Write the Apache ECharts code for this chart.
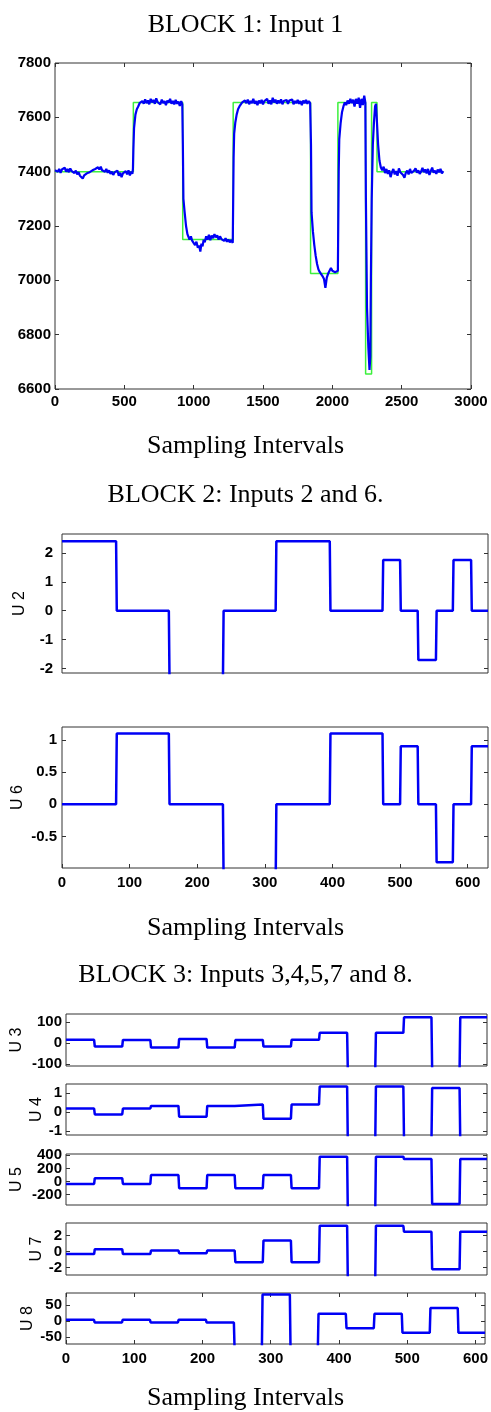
<!DOCTYPE html>
<html><head><meta charset="utf-8">
<script src="https://cdn.jsdelivr.net/npm/echarts@6/dist/echarts.min.js"></script>
<style>html,body{margin:0;padding:0;background:#fff}#c{width:491px;height:1412px}</style>
</head><body><div id="c"></div><script>
// ---------------- DATA ----------------
// Block 1: setpoint (green) and measured output (blue), [sample, value]
const setpoint1 = [[0,7400],[565,7400],[565,7655],[921,7655],[921,7150],[1285,7150],[1285,7655],[1843,7655],[1843,7025],[2040,7025],[2040,7655],[2240,7655],[2240,6655],[2283,6655],[2283,7655],[2322,7655],[2322,7400],[2800,7400]];
const output1 = [
[0,7405],[10,7412],[20,7400],[30,7410],[40,7396],[50,7408],[60,7402],[70,7415],[80,7400],[90,7410],[100,7398],[110,7412],[120,7402],[130,7408],[140,7395],[150,7404],[160,7390],[170,7398],[180,7385],[190,7392],[200,7375],[210,7386],[220,7380],[230,7394],[240,7388],[250,7398],[260,7392],[270,7405],[280,7398],[290,7410],[300,7404],[310,7416],[320,7408],[330,7418],[340,7405],[350,7412],[360,7400],[370,7410],[380,7396],[390,7405],[400,7392],[410,7400],[420,7388],[430,7398],[440,7392],[450,7404],[460,7385],[470,7396],[480,7380],[490,7394],[500,7388],[510,7402],[520,7390],[530,7405],[540,7386],[550,7400],[558,7392],[562,7410],
[565,7480],[570,7560],[580,7610],[590,7630],[600,7640],[610,7652],[620,7645],[630,7660],[640,7650],[650,7666],[660,7652],[670,7662],[680,7648],[690,7668],[700,7655],[710,7664],[720,7650],[730,7670],[740,7656],[750,7662],[760,7648],[770,7665],[780,7652],[790,7660],[800,7645],[810,7662],[820,7654],[830,7668],[840,7650],[850,7660],[860,7648],[870,7664],[880,7650],[890,7658],[900,7642],[910,7660],[918,7648],
[922,7500],[926,7300],[935,7250],[945,7200],[955,7170],[960,7165],[970,7150],[980,7162],[990,7145],[1000,7150],[1010,7130],[1020,7142],[1030,7120],[1040,7128],[1048,7106],[1056,7135],[1064,7125],[1072,7150],[1080,7140],[1090,7162],[1100,7150],[1110,7168],[1120,7148],[1130,7165],[1140,7155],[1150,7170],[1160,7158],[1170,7166],[1180,7150],[1190,7162],[1200,7152],[1210,7158],[1220,7145],[1230,7155],[1240,7142],[1250,7150],[1260,7140],[1270,7148],[1282,7138],
[1288,7450],[1292,7540],[1300,7580],[1310,7610],[1320,7630],[1330,7640],[1340,7645],[1350,7655],[1360,7648],[1370,7662],[1380,7652],[1390,7665],[1400,7648],[1410,7660],[1420,7652],[1430,7668],[1440,7650],[1450,7660],[1460,7645],[1470,7662],[1480,7652],[1490,7664],[1500,7648],[1510,7660],[1520,7655],[1530,7668],[1540,7650],[1550,7662],[1560,7648],[1570,7672],[1580,7655],[1590,7665],[1600,7650],[1610,7662],[1620,7652],[1630,7666],[1640,7648],[1650,7660],[1660,7654],[1670,7664],[1680,7650],[1690,7662],[1700,7655],[1710,7666],[1720,7648],[1730,7660],[1740,7652],[1750,7664],[1760,7650],[1770,7660],[1780,7645],[1790,7662],[1800,7652],[1810,7664],[1820,7650],[1830,7660],[1840,7652],
[1846,7500],[1850,7250],[1860,7180],[1870,7130],[1880,7090],[1890,7060],[1900,7040],[1910,7030],[1920,7035],[1930,7015],[1940,7005],[1950,6972],[1960,7010],[1970,7025],[1980,7030],[1990,7045],[2000,7035],[2010,7040],[2020,7030],[2040,7035],
[2046,7400],[2050,7520],[2060,7580],[2070,7620],[2080,7640],[2090,7655],[2100,7645],[2110,7662],[2120,7650],[2130,7668],[2140,7652],[2150,7665],[2160,7640],[2170,7668],[2180,7650],[2190,7672],[2200,7635],[2210,7668],[2220,7645],[2230,7680],[2238,7655],
[2242,7300],[2250,6900],[2260,6750],[2268,6670],[2274,6720],[2278,7000],[2284,7300],[2292,7500],[2300,7580],[2308,7640],[2315,7650],[2322,7580],[2330,7500],[2340,7440],[2350,7415],
[2360,7405],[2370,7418],[2380,7395],[2390,7410],[2400,7392],[2410,7405],[2420,7380],[2430,7398],[2440,7410],[2450,7390],[2460,7402],[2470,7385],[2480,7412],[2490,7398],[2500,7405],[2510,7388],[2520,7378],[2530,7396],[2540,7404],[2550,7390],[2560,7410],[2570,7395],[2580,7388],[2590,7404],[2600,7412],[2610,7396],[2620,7405],[2630,7392],[2640,7400],[2650,7414],[2660,7398],[2670,7408],[2680,7394],[2690,7410],[2700,7388],[2710,7402],[2720,7415],[2730,7396],[2740,7404],[2750,7392],[2760,7408],[2770,7398],[2780,7410],[2790,7394],[2800,7402]];
const b1XTicks = [0,500,1000,1500,2000,2500,3000];
const b1YTicks = [6600,6800,7000,7200,7400,7600,7800];

// Block 2: switching instants and levels
const b2Switch = [0,80,158,238,316,396,474,500,526,553,578,605];
const u2Levels = [2.4,0,-2.4,0,2.4,0,1.75,0,-1.7,0,1.75,0];
const u6Levels = [0,1.1,0,-1.2,0,1.1,0,0.9,0,-0.9,0,0.9];
const b2End = 630;
const b2XTicks = [0,100,200,300,400,500,600];
const u2YTicks = [-2,-1,0,1,2];
const u6YTicks = [-0.5,0,0.5,1];

// Block 3
const b3Switch = [0,41,82,123,164,205,246,287,328,369,410,451,492,533,574];
const u3Levels = [15,-17,14,-22,19,-22,14,-17,15,48,-130,48,122,-130,122];
const u4Levels = [0.17,-0.14,0.17,0.31,-0.26,0.31,0.38,-0.36,0.38,1.33,-1.6,1.33,-1.6,1.25,-1.6];
const u5Levels = [-38,49,-38,99,-104,99,-104,99,-104,379,-450,379,343,-345,343];
const u7Levels = [-0.3,0.3,-0.3,0.13,-0.2,0.13,-1.34,1.4,-1.34,3.25,-3.6,3.25,2.5,-2.22,2.5];
const u8Levels = [3,-5,3,-5,3,-5,-90,82,-90,22,-23,22,-37,40,-37];
const b3End = 614;
const b3XTicks = [0,100,200,300,400,500,600];
const u3YTicks = [-100,0,100];
const u4YTicks = [-1,0,1];
const u5YTicks = [-200,0,200,400];
const u7YTicks = [-2,0,2];
const u8YTicks = [-50,0,50];

// ---------------- BUILD ----------------
const FONT = '"Liberation Sans", Arial, sans-serif';
const SERIF = '"Liberation Serif", "Times New Roman", serif';
const BLUE = '#0000f5';
const fmt = v => String(v);

function steps(sw, lv, end){
  const pts = [];
  for (let i=0;i<lv.length;i++){
    const s = sw[i], e = (i+1<sw.length) ? sw[i+1] : end;
    pts.push([i===0 ? s : s+1, lv[i]]);
    pts.push([e, lv[i]]);
  }
  return pts;
}

const grids=[], xAxes=[], yAxes=[], series=[], extraY=[];
function lab(show, values, margin){
  return {show:show, customValues:values, margin:margin, fontSize:15, lineHeight:11, fontWeight:'bold', color:'#000',
    fontFamily:FONT, formatter:fmt, hideOverlap:false, showMinLabel:true, showMaxLabel:true};
}
function tick(show, values){
  return {show:show, inside:true, length:4, customValues:values, lineStyle:{color:'#333'}};
}
function panel(p){
  const gi = grids.length;
  grids.push({left:p.left, top:p.top, width:p.width, height:p.height, show:true, borderColor:'#333', borderWidth:1});
  const bx = {type:'value', gridIndex:gi, min:p.xMin, max:p.xMax, splitLine:{show:false}, axisLine:{show:false, onZero:false}};
  xAxes.push(Object.assign({}, bx, {position:'bottom', axisTick:tick(!!p.xTicksBottom, p.xTicks), axisLabel:lab(!!p.xLabels, p.xTicks, p.xMargin||6)}));
  xAxes.push(Object.assign({}, bx, {position:'top', axisTick:tick(!!p.xTicksTop, p.xTicks), axisLabel:{show:false}}));
  const by = {type:'value', gridIndex:gi, min:p.yMin, max:p.yMax, splitLine:{show:false}, axisLine:{show:false, onZero:false}};
  // label sets: split into alternating groups so that crowded labels are all drawn
  const labA = p.yTicks.filter((v,i)=> !p.splitLabels || i%2===1);
  const labB = p.yTicks.filter((v,i)=> i%2===0);
  yAxes.push(Object.assign({}, by, {position:'left',
    name:p.name||'', nameLocation:'middle', nameRotate:90, nameGap:p.nameGap||30, nameMoveOverlap:false,
    nameTextStyle:{fontSize:16, color:'#000', fontFamily:FONT},
    axisTick:tick(true, p.yTicks), axisLabel:lab(true, labA, p.yMargin||5)}));
  yAxes.push(Object.assign({}, by, {position:'right', axisTick:tick(true, p.yTicks), axisLabel:{show:false}}));
  if (p.splitLabels){
    extraY.push(Object.assign({}, by, {position:'left', axisTick:{show:false}, axisLabel:lab(true, labB, p.yMargin||5)}));
  }
  (p.lines||[]).forEach(l=>{
    series.push({type:'line', xAxisIndex:2*gi, yAxisIndex:2*gi, data:l.data, showSymbol:false, symbol:'none',
      clip:true, animation:false, lineStyle:{color:l.color, width:l.width}, z:l.z||2});
  });
}

panel({left:55, top:63, width:416, height:326, xMin:0, xMax:3000, yMin:6600, yMax:7800,
  xTicks:b1XTicks, yTicks:b1YTicks, xLabels:true, xTicksBottom:true, xTicksTop:true, xMargin:7, yMargin:4,
  lines:[{data:setpoint1, color:'#3cf03c', width:1.5, z:2},{data:output1, color:BLUE, width:2.2, z:3}]});

panel({left:62, top:534, width:426, height:139, xMin:0, xMax:b2End, yMin:-2.15, yMax:2.65,
  xTicks:b2XTicks, yTicks:u2YTicks, name:'U 2', nameGap:34, yMargin:9,
  lines:[{data:steps(b2Switch,u2Levels,b2End), color:BLUE, width:2.5}]});
panel({left:62, top:727, width:426, height:141, xMin:0, xMax:b2End, yMin:-0.99, yMax:1.2,
  xTicks:b2XTicks, yTicks:u6YTicks, name:'U 6', nameGap:36, yMargin:5, xLabels:true, xTicksBottom:true, xMargin:9,
  lines:[{data:steps(b2Switch,u6Levels,b2End), color:BLUE, width:2.5}]});

const b3 = [
  {top:1014, height:52, yMin:-110, yMax:138, yTicks:u3YTicks, name:'U 3', gap:41, lv:u3Levels},
  {top:1084, height:51, yMin:-1.22, yMax:1.46, yTicks:u4YTicks, name:'U 4', gap:21, lv:u4Levels},
  {top:1154, height:51, yMin:-360, yMax:420, yTicks:u5YTicks, name:'U 5', gap:41, lv:u5Levels, split:true},
  {top:1223, height:52, yMin:-2.95, yMax:3.6, yTicks:u7YTicks, name:'U 7', gap:21, lv:u7Levels},
  {top:1293, height:51, yMin:-72.5, yMax:87, yTicks:u8YTicks, name:'U 8', gap:30, lv:u8Levels, last:true}
];
b3.forEach(b=>{
  panel({left:66, top:b.top, width:421, height:b.height, xMin:0, xMax:b3End, yMin:b.yMin, yMax:b.yMax,
    xTicks:b3XTicks, yTicks:b.yTicks, name:b.name, nameGap:b.gap, yMargin:4, splitLabels:!!b.split,
    xLabels:!!b.last, xTicksBottom:!!b.last, xTicksTop:!!b.last, xMargin:9,
    lines:[{data:steps(b3Switch,b.lv,b3End), color:BLUE, width:2.5}]});
});
extraY.forEach(a=>yAxes.push(a));

function txt(t, y){
  return {type:'text', x:245.5, y:y, silent:true,
    style:{text:t, font:'26px '+SERIF, fill:'#000', textAlign:'center', textVerticalAlign:'middle'}};
}
const chart = echarts.init(document.getElementById('c'), null, {renderer:'canvas'});
chart.setOption({
  animation:false,
  backgroundColor:'#fff',
  grid:grids, xAxis:xAxes, yAxis:yAxes, series:series,
  graphic:[
    txt('BLOCK 1: Input 1', 25),
    txt('Sampling Intervals', 446),
    txt('BLOCK 2: Inputs 2 and 6.', 495),
    txt('Sampling Intervals', 928),
    txt('BLOCK 3: Inputs 3,4,5,7 and 8.', 975),
    txt('Sampling Intervals', 1398)
  ]
});
</script></body></html>
